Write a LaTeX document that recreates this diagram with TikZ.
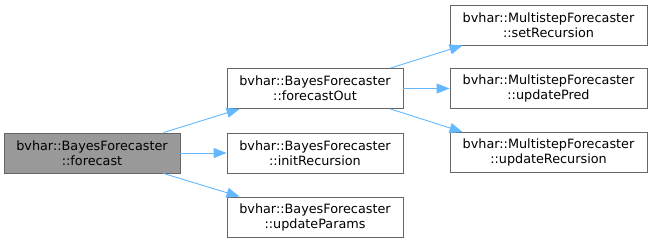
\documentclass[tikz,border=0pt]{standalone}
\usepackage{fontspec}
\setmainfont{DejaVu Sans}
\usetikzlibrary{arrows.meta}
\definecolor{edgeblue}{HTML}{63B8FF}
\definecolor{boxline}{HTML}{666666}
\definecolor{curfill}{HTML}{999999}
\tikzset{
  fnbox/.style={draw=boxline, line width=0.9pt, fill=white, inner sep=0pt,
    minimum width=176pt, minimum height=40pt, align=center,
    font=\fontsize{12.8}{15}\selectfont},
  msbox/.style={fnbox, minimum width=197pt},
  curbox/.style={fnbox, fill=curfill},
  call/.style={draw=edgeblue, line width=0.9pt, -{Triangle[length=13pt,width=10pt]}}
}
\begin{document}
\begin{tikzpicture}[x=1pt,y=-1pt]
  \useasboundingbox (0,0) rectangle (652,243);
  % caller
  \node[curbox] (fc) at (92,153) {bvhar::BayesForecaster\\::forecast};
  % direct callees
  \node[fnbox] (fo) at (315,88.5) {bvhar::BayesForecaster\\::forecastOut};
  \node[fnbox] (ir) at (315,153) {bvhar::BayesForecaster\\::initRecursion};
  \node[fnbox] (up) at (315,217) {bvhar::BayesForecaster\\::updateParams};
  % callees of forecastOut
  \node[msbox] (sr) at (548.5,25) {bvhar::MultistepForecaster\\::setRecursion};
  \node[msbox] (pr) at (548.5,88.5) {bvhar::MultistepForecaster\\::updatePred};
  \node[msbox] (ur) at (548.5,152.5) {bvhar::MultistepForecaster\\::updateRecursion};
  % calls
  \draw[call] ([xshift=-17pt]fc.north east) -- ([xshift=13pt]fo.south west);
  \draw[call] (fc.east) -- (ir.west);
  \draw[call] ([xshift=-17pt]fc.south east) -- ([xshift=13pt]up.north west);
  \draw[call] ([xshift=-13pt]fo.north east) -- ([xshift=13pt]sr.south west);
  \draw[call] (fo.east) -- (pr.west);
  \draw[call] ([xshift=-13pt]fo.south east) -- ([xshift=13pt]ur.north west);
\end{tikzpicture}
\end{document}
